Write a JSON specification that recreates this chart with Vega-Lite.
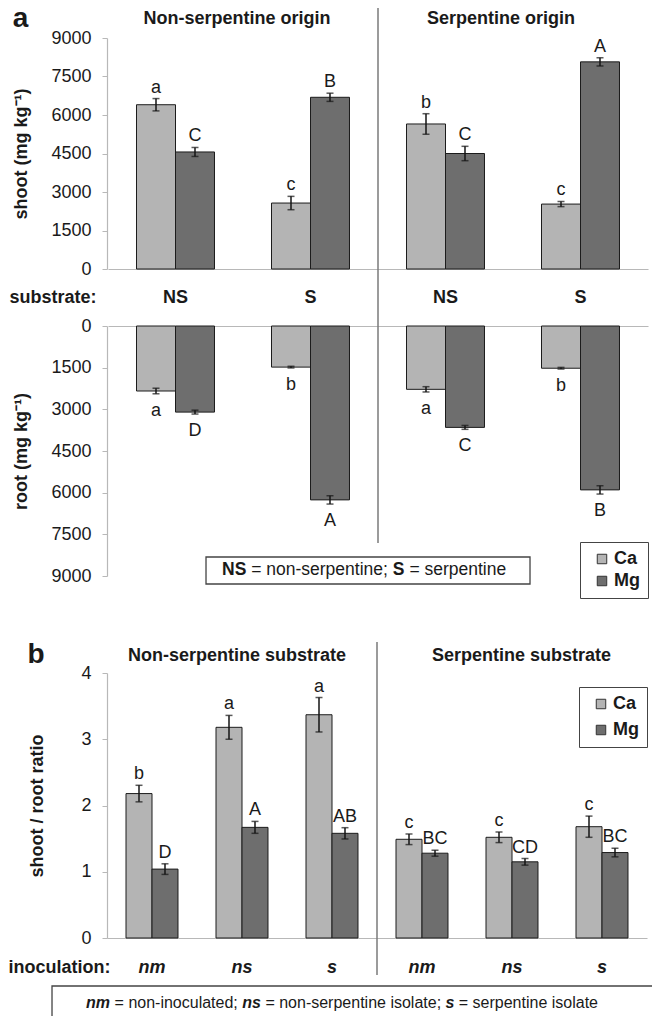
{
  "$schema": "https://vega.github.io/schema/vega-lite/v6.json",
  "width": 540,
  "height": 900,
  "autosize": {"type": "none"},
  "padding": {"left": 107, "top": 38, "right": 5, "bottom": 78},
  "background": "white",
  "datasets": {
    "conc": [
      {"part": "shoot", "grp": "NO|NS", "el": "Ca", "v": 6400, "lo": 6160, "hi": 6640, "sig": "a"},
      {"part": "shoot", "grp": "NO|NS", "el": "Mg", "v": 4560, "lo": 4385, "hi": 4735, "sig": "C"},
      {"part": "shoot", "grp": "NO|S", "el": "Ca", "v": 2570, "lo": 2310, "hi": 2830, "sig": "c"},
      {"part": "shoot", "grp": "NO|S", "el": "Mg", "v": 6690, "lo": 6530, "hi": 6850, "sig": "B"},
      {"part": "shoot", "grp": "SO|NS", "el": "Ca", "v": 5650, "lo": 5250, "hi": 6050, "sig": "b"},
      {"part": "shoot", "grp": "SO|NS", "el": "Mg", "v": 4500, "lo": 4220, "hi": 4780, "sig": "C"},
      {"part": "shoot", "grp": "SO|S", "el": "Ca", "v": 2530, "lo": 2430, "hi": 2630, "sig": "c"},
      {"part": "shoot", "grp": "SO|S", "el": "Mg", "v": 8070, "lo": 7910, "hi": 8230, "sig": "A"},
      {"part": "root", "grp": "NO|NS", "el": "Ca", "v": 2340, "lo": 2240, "hi": 2440, "sig": "a"},
      {"part": "root", "grp": "NO|NS", "el": "Mg", "v": 3100, "lo": 3030, "hi": 3170, "sig": "D"},
      {"part": "root", "grp": "NO|S", "el": "Ca", "v": 1480, "lo": 1450, "hi": 1510, "sig": "b"},
      {"part": "root", "grp": "NO|S", "el": "Mg", "v": 6260, "lo": 6110, "hi": 6410, "sig": "A"},
      {"part": "root", "grp": "SO|NS", "el": "Ca", "v": 2280, "lo": 2185, "hi": 2375, "sig": "a"},
      {"part": "root", "grp": "SO|NS", "el": "Mg", "v": 3650, "lo": 3580, "hi": 3720, "sig": "C"},
      {"part": "root", "grp": "SO|S", "el": "Ca", "v": 1520, "lo": 1490, "hi": 1550, "sig": "b"},
      {"part": "root", "grp": "SO|S", "el": "Mg", "v": 5900, "lo": 5750, "hi": 6050, "sig": "B"}
    ],
    "ratio": [
      {"grp": "NS|nm", "el": "Ca", "v": 2.18, "lo": 2.055, "hi": 2.305, "sig": "b"},
      {"grp": "NS|nm", "el": "Mg", "v": 1.04, "lo": 0.96, "hi": 1.12, "sig": "D"},
      {"grp": "NS|ns", "el": "Ca", "v": 3.18, "lo": 3.0, "hi": 3.36, "sig": "a"},
      {"grp": "NS|ns", "el": "Mg", "v": 1.67, "lo": 1.58, "hi": 1.76, "sig": "A"},
      {"grp": "NS|s", "el": "Ca", "v": 3.37, "lo": 3.11, "hi": 3.63, "sig": "a"},
      {"grp": "NS|s", "el": "Mg", "v": 1.58, "lo": 1.495, "hi": 1.665, "sig": "AB"},
      {"grp": "S|nm", "el": "Ca", "v": 1.49, "lo": 1.41, "hi": 1.57, "sig": "c"},
      {"grp": "S|nm", "el": "Mg", "v": 1.28, "lo": 1.235, "hi": 1.325, "sig": "BC"},
      {"grp": "S|ns", "el": "Ca", "v": 1.52, "lo": 1.44, "hi": 1.6, "sig": "c"},
      {"grp": "S|ns", "el": "Mg", "v": 1.15, "lo": 1.1, "hi": 1.2, "sig": "CD"},
      {"grp": "S|s", "el": "Ca", "v": 1.68, "lo": 1.52, "hi": 1.84, "sig": "c"},
      {"grp": "S|s", "el": "Mg", "v": 1.29, "lo": 1.225, "hi": 1.355, "sig": "BC"}
    ]
  },
  "config": {
    "font": "Liberation Sans",
    "view": {"stroke": null},
    "axis": {
      "labelFont": "Liberation Sans",
      "labelFontSize": 18,
      "labelColor": "#1a1a1a",
      "titleFont": "Liberation Sans",
      "titleFontSize": 18,
      "titleFontWeight": "bold",
      "titleColor": "#1a1a1a",
      "domainColor": "#b8b8b8",
      "domainWidth": 1.2,
      "tickColor": "#b8b8b8",
      "grid": false
    },
    "text": {"font": "Liberation Sans", "fontSize": 18, "color": "#1a1a1a"},
    "legend": {
      "labelFont": "Liberation Sans",
      "orient": "none",
      "symbolType": "square", "symbolSize": 90, "symbolStrokeColor": "#333", "symbolStrokeWidth": 1, "symbolOffset": 5,
      "labelFontSize": 18, "labelFontWeight": "bold", "labelColor": "#1a1a1a", "labelOffset": 3,
      "strokeColor": "#444", "fillColor": "white", "padding": 8
    }
  },
  "resolve": {
    "scale": {"x": "independent", "y": "independent", "xOffset": "independent", "fill": "independent"},
    "axis": {"x": "independent", "y": "independent"},
    "legend": {"fill": "independent"}
  },
  "layer": [
    {
      "layer": [
        {
          "data": {"name": "conc"},
          "transform": [{"filter": "datum.part === 'shoot'"}],
          "encoding": {
            "x": {
              "field": "grp", "type": "nominal",
              "scale": {"domain": ["NO|NS", "NO|S", "SO|NS", "SO|S"], "range": [1, 541], "paddingInner": 0, "paddingOuter": 0},
              "axis": {
                "orient": "bottom", "offset": -669, "ticks": false, "tickSize": 0,
                "labelExpr": "slice(datum.label, indexof(datum.label, '|') + 1)",
                "labelFontWeight": "bold", "labelAngle": 0, "labelPadding": 28, "labelBaseline": "middle",
                "title": "substrate:", "titleX": -98, "titleY": 28, "titleAlign": "left", "titleBaseline": "middle", "titleAngle": 0
              }
            },
            "xOffset": {"field": "el", "type": "nominal", "scale": {"domain": ["Ca", "Mg"], "paddingInner": 0, "paddingOuter": 0.731}},
            "y": {
              "field": "v", "type": "quantitative",
              "scale": {"domain": [0, 9000], "range": [231, 0], "nice": false},
              "axis": {
                "orient": "left", "values": [0, 1500, 3000, 4500, 6000, 7500, 9000], "format": "d",
                "tickSize": 5, "labelPadding": 11,
                "title": "shoot (mg kg⁻¹)", "titleX": -86, "titleY": 115.5, "titleAngle": -90, "titleAlign": "center", "titleBaseline": "middle"
              }
            }
          },
          "layer": [
            {
              "mark": {"type": "bar", "stroke": "#1c1c1c", "strokeWidth": 1},
              "encoding": {
                "fill": {"field": "el", "type": "nominal", "scale": {"domain": ["Ca", "Mg"], "range": ["#b4b4b4", "#6e6e6e"]}, "legend": null}
              }
            },
            {
              "mark": {"type": "rule", "color": "#151515", "strokeWidth": 1.5},
              "encoding": {"y": {"field": "lo", "type": "quantitative"}, "y2": {"field": "hi"}}
            },
            {
              "mark": {"type": "tick", "color": "#151515", "size": 7, "thickness": 1.5},
              "encoding": {"y": {"field": "lo", "type": "quantitative"}}
            },
            {
              "mark": {"type": "tick", "color": "#151515", "size": 7, "thickness": 1.5},
              "encoding": {"y": {"field": "hi", "type": "quantitative"}}
            },
            {
              "mark": {"type": "text", "baseline": "alphabetic", "dy": -6, "fontSize": 18},
              "encoding": {"y": {"field": "hi", "type": "quantitative"}, "text": {"field": "sig"}}
            }
          ]
        },
        {
          "data": {"values": [{}]},
          "mark": {"type": "rule", "color": "#7a7a7a", "strokeWidth": 1.5},
          "encoding": {
            "x": {"datum": "SO|NS", "type": "nominal", "bandPosition": 0},
            "y": {"datum": 10169, "type": "quantitative"},
            "y2": {"datum": -10675}
          }
        },
        {
          "data": {"values": [{}]},
          "mark": {"type": "text", "text": "Non-serpentine origin", "fontWeight": "bold", "fontSize": 18, "baseline": "alphabetic", "dx": -6},
          "encoding": {"x": {"datum": "NO|S", "type": "nominal", "bandPosition": 0}, "y": {"datum": 9545, "type": "quantitative"}}
        },
        {
          "data": {"values": [{}]},
          "mark": {"type": "text", "text": "Serpentine origin", "fontWeight": "bold", "fontSize": 18, "baseline": "alphabetic", "dx": -12},
          "encoding": {"x": {"datum": "SO|S", "type": "nominal", "bandPosition": 0}, "y": {"datum": 9545, "type": "quantitative"}}
        },
        {
          "data": {"values": [{}]},
          "mark": {"type": "text", "text": "a", "fontWeight": "bold", "fontSize": 28, "baseline": "alphabetic", "dx": -87.5},
          "encoding": {"x": {"datum": "NO|NS", "type": "nominal", "bandPosition": 0}, "y": {"datum": 9429, "type": "quantitative"}}
        }
      ]
    },
    {
      "layer": [
        {
          "data": {"name": "conc"},
          "transform": [{"filter": "datum.part === 'root'"}],
          "encoding": {
            "x": {
              "field": "grp", "type": "nominal",
              "scale": {"domain": ["NO|NS", "NO|S", "SO|NS", "SO|S"], "range": [1, 541], "paddingInner": 0, "paddingOuter": 0},
              "axis": {"orient": "top", "offset": -288, "ticks": false, "labels": false, "title": null}
            },
            "xOffset": {"field": "el", "type": "nominal", "scale": {"domain": ["Ca", "Mg"], "paddingInner": 0, "paddingOuter": 0.731}},
            "y": {
              "field": "v", "type": "quantitative",
              "scale": {"domain": [0, 9000], "range": [288, 538], "nice": false},
              "axis": {
                "orient": "left", "values": [0, 1500, 3000, 4500, 6000, 7500, 9000], "format": "d",
                "tickSize": 5, "labelPadding": 11,
                "title": "root (mg kg⁻¹)", "titleX": -86, "titleY": 413, "titleAngle": -90, "titleAlign": "center", "titleBaseline": "middle"
              }
            }
          },
          "layer": [
            {
              "mark": {"type": "bar", "stroke": "#1c1c1c", "strokeWidth": 1},
              "encoding": {
                "fill": {
                  "field": "el", "type": "nominal",
                  "scale": {"domain": ["Ca", "Mg"], "range": ["#b4b4b4", "#6e6e6e"]},
                  "legend": {"legendX": 473, "legendY": 504, "title": null, "rowPadding": 4}
                }
              }
            },
            {
              "mark": {"type": "rule", "color": "#151515", "strokeWidth": 1.5},
              "encoding": {"y": {"field": "lo", "type": "quantitative"}, "y2": {"field": "hi"}}
            },
            {
              "mark": {"type": "tick", "color": "#151515", "size": 7, "thickness": 1.5},
              "encoding": {"y": {"field": "lo", "type": "quantitative"}}
            },
            {
              "mark": {"type": "tick", "color": "#151515", "size": 7, "thickness": 1.5},
              "encoding": {"y": {"field": "hi", "type": "quantitative"}}
            },
            {
              "mark": {"type": "text", "baseline": "alphabetic", "dy": 22, "fontSize": 18},
              "encoding": {"y": {"field": "hi", "type": "quantitative"}, "text": {"field": "sig"}}
            }
          ]
        },
        {
          "data": {"values": [{}]},
          "mark": {"type": "rect", "fill": "white", "stroke": "#444", "strokeWidth": 1.3},
          "encoding": {
            "x": {"datum": "NO|NS", "type": "nominal", "bandPosition": 0.726},
            "x2": {"datum": "SO|S", "bandPosition": 0.126},
            "y": {"datum": 8316, "type": "quantitative"},
            "y2": {"datum": 9288}
          }
        },
        {
          "data": {"values": [{}]},
          "mark": {"type": "text", "text": "NS", "fontWeight": "bold", "fontSize": 17.5, "align": "left", "baseline": "middle", "dx": -156},
          "encoding": {"x": {"datum": "NO|S", "type": "nominal", "bandPosition": 1}, "y": {"datum": 8784, "type": "quantitative"}}
        },
        {
          "data": {"values": [{}]},
          "mark": {"type": "text", "text": "= non-serpentine;", "fontSize": 17.5, "align": "left", "baseline": "middle", "dx": -126.8},
          "encoding": {"x": {"datum": "NO|S", "type": "nominal", "bandPosition": 1}, "y": {"datum": 8784, "type": "quantitative"}}
        },
        {
          "data": {"values": [{}]},
          "mark": {"type": "text", "text": "S", "fontWeight": "bold", "fontSize": 17.5, "align": "left", "baseline": "middle", "dx": 14.8},
          "encoding": {"x": {"datum": "NO|S", "type": "nominal", "bandPosition": 1}, "y": {"datum": 8784, "type": "quantitative"}}
        },
        {
          "data": {"values": [{}]},
          "mark": {"type": "text", "text": "= serpentine", "fontSize": 17.5, "align": "left", "baseline": "middle", "dx": 31.4},
          "encoding": {"x": {"datum": "NO|S", "type": "nominal", "bandPosition": 1}, "y": {"datum": 8784, "type": "quantitative"}}
        }
      ]
    },
    {
      "layer": [
        {
          "data": {"name": "ratio"},
          "encoding": {
            "x": {
              "field": "grp", "type": "nominal",
              "scale": {"domain": ["NS|nm", "NS|ns", "NS|s", "S|nm", "S|ns", "S|s"], "range": [0, 540], "paddingInner": 0, "paddingOuter": 0},
              "axis": {
                "orient": "bottom", "offset": 0, "ticks": false, "tickSize": 0,
                "labelExpr": "slice(datum.label, indexof(datum.label, '|') + 1)",
                "labelFontWeight": "bold", "labelFontStyle": "italic", "labelAngle": 0, "labelPadding": 29, "labelBaseline": "middle",
                "title": "inoculation:", "titleX": -99, "titleY": 29, "titleAlign": "left", "titleBaseline": "middle", "titleAngle": 0
              }
            },
            "xOffset": {"field": "el", "type": "nominal", "scale": {"domain": ["Ca", "Mg"], "paddingInner": 0, "paddingOuter": 0.731}},
            "y": {
              "field": "v", "type": "quantitative",
              "scale": {"domain": [0, 4], "range": [900, 635], "nice": false},
              "axis": {
                "orient": "left", "values": [0, 1, 2, 3, 4], "format": "d",
                "tickSize": 5, "labelPadding": 11,
                "title": "shoot / root ratio", "titleX": -70, "titleY": 767.5, "titleAngle": -90, "titleAlign": "center", "titleBaseline": "middle"
              }
            }
          },
          "layer": [
            {
              "mark": {"type": "bar", "stroke": "#1c1c1c", "strokeWidth": 1},
              "encoding": {
                "fill": {
                  "field": "el", "type": "nominal",
                  "scale": {"domain": ["Ca", "Mg"], "range": ["#b4b4b4", "#6e6e6e"]},
                  "legend": {"legendX": 472, "legendY": 649, "title": null, "rowPadding": 8}
                }
              }
            },
            {
              "mark": {"type": "rule", "color": "#151515", "strokeWidth": 1.5},
              "encoding": {"y": {"field": "lo", "type": "quantitative"}, "y2": {"field": "hi"}}
            },
            {
              "mark": {"type": "tick", "color": "#151515", "size": 7, "thickness": 1.5},
              "encoding": {"y": {"field": "lo", "type": "quantitative"}}
            },
            {
              "mark": {"type": "tick", "color": "#151515", "size": 7, "thickness": 1.5},
              "encoding": {"y": {"field": "hi", "type": "quantitative"}}
            },
            {
              "mark": {"type": "text", "baseline": "alphabetic", "dy": -6, "fontSize": 18},
              "encoding": {"y": {"field": "hi", "type": "quantitative"}, "text": {"field": "sig"}}
            }
          ]
        },
        {
          "data": {"values": [{}]},
          "mark": {"type": "rule", "color": "#7a7a7a", "strokeWidth": 1.5},
          "encoding": {
            "x": {"datum": "S|nm", "type": "nominal", "bandPosition": 0},
            "y": {"datum": 4.468, "type": "quantitative"},
            "y2": {"datum": -0.558}
          }
        },
        {
          "data": {"values": [{}]},
          "mark": {"type": "text", "text": "Non-serpentine substrate", "fontWeight": "bold", "fontSize": 18, "baseline": "alphabetic", "dx": -5},
          "encoding": {"x": {"datum": "NS|ns", "type": "nominal", "bandPosition": 0.5}, "y": {"datum": 4.186, "type": "quantitative"}}
        },
        {
          "data": {"values": [{}]},
          "mark": {"type": "text", "text": "Serpentine substrate", "fontWeight": "bold", "fontSize": 18, "baseline": "alphabetic", "dx": 9.5},
          "encoding": {"x": {"datum": "S|ns", "type": "nominal", "bandPosition": 0.5}, "y": {"datum": 4.186, "type": "quantitative"}}
        },
        {
          "data": {"values": [{}]},
          "mark": {"type": "text", "text": "b", "fontWeight": "bold", "fontSize": 28, "baseline": "alphabetic", "dx": -71},
          "encoding": {"x": {"datum": "NS|nm", "type": "nominal", "bandPosition": 0}, "y": {"datum": 4.151, "type": "quantitative"}}
        },
        {
          "data": {"values": [{}]},
          "mark": {"type": "rect", "fill": "white", "stroke": "#444", "strokeWidth": 1.3},
          "encoding": {
            "x": {"datum": "NS|nm", "type": "nominal", "bandPosition": -0.611},
            "x2": {"datum": "S|s", "bandPosition": 1.25},
            "y": {"datum": -0.7245, "type": "quantitative"},
            "y2": {"datum": -1.4}
          }
        },
        {
          "data": {"values": [{}]},
          "mark": {"type": "text", "text": "nm", "fontWeight": "bold", "fontStyle": "italic", "fontSize": 16, "align": "left", "baseline": "middle", "dx": -290.9},
          "encoding": {"x": {"datum": "S|nm", "type": "nominal", "bandPosition": 0}, "y": {"datum": -0.981, "type": "quantitative"}}
        },
        {
          "data": {"values": [{}]},
          "mark": {"type": "text", "text": "= non-inoculated;", "fontSize": 16, "align": "left", "baseline": "middle", "dx": -262.4},
          "encoding": {"x": {"datum": "S|nm", "type": "nominal", "bandPosition": 0}, "y": {"datum": -0.981, "type": "quantitative"}}
        },
        {
          "data": {"values": [{}]},
          "mark": {"type": "text", "text": "ns", "fontWeight": "bold", "fontStyle": "italic", "fontSize": 16, "align": "left", "baseline": "middle", "dx": -134.8},
          "encoding": {"x": {"datum": "S|nm", "type": "nominal", "bandPosition": 0}, "y": {"datum": -0.981, "type": "quantitative"}}
        },
        {
          "data": {"values": [{}]},
          "mark": {"type": "text", "text": "= non-serpentine isolate;", "fontSize": 16, "align": "left", "baseline": "middle", "dx": -111.6},
          "encoding": {"x": {"datum": "S|nm", "type": "nominal", "bandPosition": 0}, "y": {"datum": -0.981, "type": "quantitative"}}
        },
        {
          "data": {"values": [{}]},
          "mark": {"type": "text", "text": "s", "fontWeight": "bold", "fontStyle": "italic", "fontSize": 16, "align": "left", "baseline": "middle", "dx": 68.4},
          "encoding": {"x": {"datum": "S|nm", "type": "nominal", "bandPosition": 0}, "y": {"datum": -0.981, "type": "quantitative"}}
        },
        {
          "data": {"values": [{}]},
          "mark": {"type": "text", "text": "= serpentine isolate", "fontSize": 16, "align": "left", "baseline": "middle", "dx": 81.8},
          "encoding": {"x": {"datum": "S|nm", "type": "nominal", "bandPosition": 0}, "y": {"datum": -0.981, "type": "quantitative"}}
        }
      ]
    }
  ]
}
